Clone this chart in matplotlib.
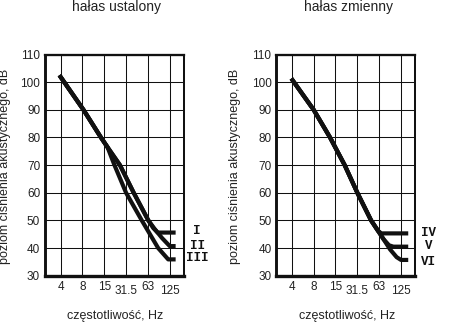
import matplotlib
matplotlib.use("Agg")
import matplotlib.pyplot as plt

# ---------------------------------------------------------------
# data
# x positions are octave-band indices (4 Hz -> 1 ... 125 Hz -> 6)
# ---------------------------------------------------------------
freq_labels = ['4', '8', '15', '31.5', '63', '125']
freq_pos = [1, 2, 3, 4, 5, 6]
db_ticks = [30, 40, 50, 60, 70, 80, 90, 100, 110]

# steady noise (hałas ustalony)
curve_I_x = [0.95, 2.05, 2.85, 3.15, 3.72, 4.35, 5.02, 5.25, 5.45, 6.27]
curve_I_y = [102.5, 90, 80, 76.5, 70, 60, 50, 47.2, 45.6, 45.6]
curve_II_x = [0.95, 2.05, 2.85, 3.15, 3.72, 4.35, 5.02, 5.3, 5.65, 6.0, 6.27]
curve_II_y = [102.5, 90, 80, 76.5, 70, 60, 50, 47.0, 43.6, 40.7, 40.7]
curve_III_x = [0.95, 2.05, 2.85, 3.15, 3.47, 4.0, 4.72, 5.47, 5.93, 6.27]
curve_III_y = [102.5, 90, 80, 76.5, 70, 60, 50, 40, 35.9, 35.9]

# variable noise (hałas zmienny)
curve_IV_x = [0.98, 2.0, 2.75, 3.42, 4.0, 4.63, 4.95, 5.1, 6.33]
curve_IV_y = [101.3, 90, 80, 70, 60, 50, 46.2, 45.3, 45.3]
curve_V_x = [0.98, 2.0, 2.75, 3.42, 4.0, 4.63, 4.95, 5.2, 5.45, 5.65, 6.33]
curve_V_y = [101.3, 90, 80, 70, 60, 50, 46.2, 43.2, 41.0, 40.5, 40.5]
curve_VI_x = [0.98, 2.0, 2.75, 3.42, 4.0, 4.63, 4.95, 5.2, 5.5, 5.8, 6.0, 6.33]
curve_VI_y = [101.3, 90, 80, 70, 60, 50, 46.2, 43.2, 39.5, 36.7, 35.7, 35.7]

left_labels = ['I', 'II', 'III']
left_label_y = [46.2, 40.7, 36.5]
right_labels = ['IV', 'V', 'VI']
right_label_y = [45.4, 40.7, 34.8]

titles = ['hałas ustalony', 'hałas zmienny']
xlabel = 'częstotliwość, Hz'
ylabel = 'poziom ciśnienia akustycznego, dB'

plt.rcParams['font.family'] = ['Liberation Sans', 'DejaVu Sans']

fig = plt.figure(figsize=(4.57, 3.25), dpi=100)
fig.patch.set_facecolor('white')

ax_l = fig.add_axes([0.0985, 0.1517, 0.3035, 0.6806])
ax_r = fig.add_axes([0.6046, 0.1517, 0.3035, 0.6806])

left_curves = [(curve_I_x, curve_I_y), (curve_II_x, curve_II_y), (curve_III_x, curve_III_y)]
right_curves = [(curve_IV_x, curve_IV_y), (curve_V_x, curve_V_y), (curve_VI_x, curve_VI_y)]

upper_idx = [0, 1, 2, 4]   # labels sitting on the upper row
lower_idx = [3, 5]         # staggered, lower row

for ax, curves, labels, label_y, title, ylab_x in [
        (ax_l, left_curves, left_labels, left_label_y, titles[0], 5.5),
        (ax_r, right_curves, right_labels, right_label_y, titles[1], 235)]:
    for cx, cy in curves:
        ax.plot(cx, cy, color='#111111', linewidth=3.0,
                solid_joinstyle='round', solid_capstyle='butt', zorder=3)

    ax.set_xlim(0.29, 6.64)
    ax.set_ylim(30, 110)

    # major ticks = upper row of labels, minor ticks = lower row
    ax.set_xticks([freq_pos[i] for i in upper_idx])
    ax.set_xticklabels([freq_labels[i] for i in upper_idx])
    ax.set_xticks([freq_pos[i] for i in lower_idx], minor=True)
    ax.set_xticklabels([freq_labels[i] for i in lower_idx], minor=True)
    ax.set_yticks(db_ticks)

    ax.tick_params(axis='x', which='major', length=0, pad=4.0, labelsize=8.5, colors='#222222')
    ax.tick_params(axis='x', which='minor', length=0, pad=7.0, labelsize=8.5, colors='#222222')
    ax.tick_params(axis='y', length=0, pad=3.5, labelsize=8.5, colors='#222222')

    ax.grid(True, which='both', color='#111111', linewidth=0.75)
    ax.set_axisbelow(True)

    ax.spines['left'].set_linewidth(2.1)
    ax.spines['bottom'].set_linewidth(2.4)
    ax.spines['top'].set_linewidth(1.65)
    ax.spines['right'].set_linewidth(1.45)
    for sp in ax.spines.values():
        sp.set_color('#111111')

    for lab, ly in zip(labels, label_y):
        ax.text(7.25, ly, lab, ha='center', va='center', fontsize=9,
                family='Liberation Mono', fontweight='bold', color='#111111',
                clip_on=False)

    # titles, axis labels placed in figure pixels
    bbox = ax.get_position()
    cx_fig = (bbox.x0 + bbox.x1) / 2
    fig.text(cx_fig + 2.5 / 457, 1 - 7 / 325, title, ha='center', va='center',
             fontsize=10, color='#222222')
    fig.text(cx_fig + 1.0 / 457, 1 - 316.5 / 325, xlabel, ha='center', va='center',
             fontsize=9, color='#222222')
    fig.text(ylab_x / 457, 1 - 166 / 325, ylabel, ha='center', va='center',
             rotation=90, fontsize=9, color='#222222')

plt.savefig('out.png', dpi=100, facecolor='white')
